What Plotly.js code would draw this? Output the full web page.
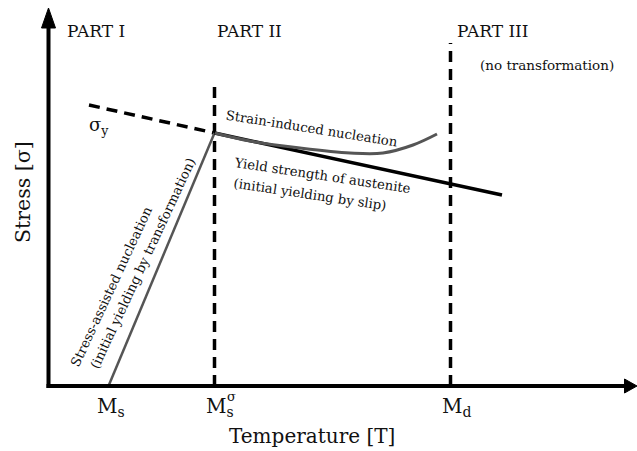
<!DOCTYPE html>
<html>
<head>
<meta charset="utf-8">
<script src="https://cdn.plot.ly/plotly-3.0.1.min.js"></script>
<style>
  html, body { margin: 0; padding: 0; background: #fff; }
  #chart { width: 637px; height: 451px; }
</style>
</head>
<body>
<div id="chart"></div>
<script>
// Schematic stress–temperature diagram for martensitic transformation.
// Temperature and stress are in arbitrary units (origin at the axes corner).

// Characteristic temperatures
const tempLabels = ['M<sub>s</sub>', 'M<sub>s</sub>', 'M<sub>d</sub>'];
const tempValues = [60, 166, 402];

// Stress-assisted nucleation: from Ms up to the yield stress at Ms^σ
const stressAssistedT = [60, 166];
const stressAssistedS = [0, 253];

// Extrapolated yield stress σy below Ms^σ (dashed)
const sigmaYT = [40.5, 166];
const sigmaYS = [281, 253];

// Yield strength of austenite (initial yielding by slip)
const yieldT = [166, 453.5];
const yieldS = [253, 191];

// Strain-induced nucleation curve
const strainT = [166.5, 201.5, 251.5, 301.5, 334.5, 364.5, 388.5];
const strainS = [253, 245, 238, 233, 233, 241, 252];

// Heights of the dashed boundaries at Ms^σ and Md
const boundaryTop = [303, 343];

// Region headings
const partNames = ['PART I', 'PART II', 'PART III'];
const partT = [47, 201, 444];

const FONT = 'DejaVu Serif';
const INK = '#111';
const GREY = '#555';
const DASH = '11px,7px';

const traces = [
  { x: sigmaYT, y: sigmaYS, mode: 'lines',
    line: { color: '#000', width: 3.5, dash: DASH } },
  { x: [tempValues[1], tempValues[1]], y: [0, boundaryTop[0]], mode: 'lines',
    line: { color: '#000', width: 3.5, dash: DASH } },
  { x: [tempValues[2], tempValues[2]], y: [0, boundaryTop[1]], mode: 'lines',
    line: { color: '#000', width: 3.5, dash: DASH } },
  { x: stressAssistedT, y: stressAssistedS, mode: 'lines',
    line: { color: GREY, width: 2.5 } },
  { x: yieldT, y: yieldS, mode: 'lines',
    line: { color: '#000', width: 3.5 } },
  { x: strainT, y: strainS, mode: 'lines',
    line: { color: GREY, width: 3, shape: 'spline', smoothing: 1 } }
];

function txt(x, y, text, size, extra) {
  return Object.assign({
    x: x, y: y, xref: 'x', yref: 'y', text: text, showarrow: false,
    font: { family: FONT, size: size, color: INK },
    xanchor: 'center', yanchor: 'middle'
  }, extra || {});
}

const annotations = [];
partNames.forEach((p, i) => annotations.push(txt(partT[i], 355.5, p, 17)));
annotations.push(txt(498, 321, '(no transformation)', 13.5));
annotations.push(txt(50, 260, 'σ<sub>y</sub>', 18));
annotations.push(txt(263, 257.5, 'Strain-induced nucleation', 13.2, { textangle: 9 }));
annotations.push(txt(273.5, 211, 'Yield strength of austenite', 13.2, { textangle: 8.5 }));
annotations.push(txt(261.5, 192, '(initial yielding by slip)', 13.2, { textangle: 8.5 }));
annotations.push(txt(63, 99.5, 'Stress-assisted nucleation', 13.2, { textangle: -65 }));
annotations.push(txt(94, 123, '(initial yielding by transformation)', 13.2, { textangle: -65 }));
annotations.push(txt(-25.5, 194, 'Stress [σ]', 20.5, { textangle: -90 }));
annotations.push(txt(263, -50, 'Temperature [T]', 20));
// Temperature tick labels
annotations.push(txt(tempValues[0] + 2, -21, tempLabels[0], 20));
annotations.push(txt(tempValues[1] + 5, -21, tempLabels[1], 20));
annotations.push(txt(tempValues[1] + 17, -10, 'σ', 13));
annotations.push(txt(tempValues[2] + 6, -21, tempLabels[2], 20));

// Axes drawn as thick arrows
const shapes = [
  { type: 'line', xref: 'x', yref: 'y', x0: -2, y0: 0, x1: 578, y1: 0,
    line: { color: '#000', width: 4 } },
  { type: 'line', xref: 'x', yref: 'y', x0: 0, y0: -2, x1: 0, y1: 360,
    line: { color: '#000', width: 4 } },
  { type: 'path', xref: 'x', yref: 'y', path: 'M576,7 L588.5,0 L576,-7 Z',
    fillcolor: '#000', line: { color: '#000', width: 1 } },
  { type: 'path', xref: 'x', yref: 'y', path: 'M-7,358 L0,378 L7,358 Z',
    fillcolor: '#000', line: { color: '#000', width: 1 } }
];

const layout = {
  width: 637, height: 451,
  margin: { l: 0, r: 0, t: 0, b: 0 },
  paper_bgcolor: '#fff', plot_bgcolor: '#fff',
  showlegend: false,
  xaxis: { range: [-48.5, 588.5], visible: false, fixedrange: true },
  yaxis: { range: [-65, 386], visible: false, fixedrange: true },
  annotations: annotations,
  shapes: shapes
};

Plotly.newPlot('chart', traces, layout, { staticPlot: true, displayModeBar: false });
</script>
</body>
</html>
